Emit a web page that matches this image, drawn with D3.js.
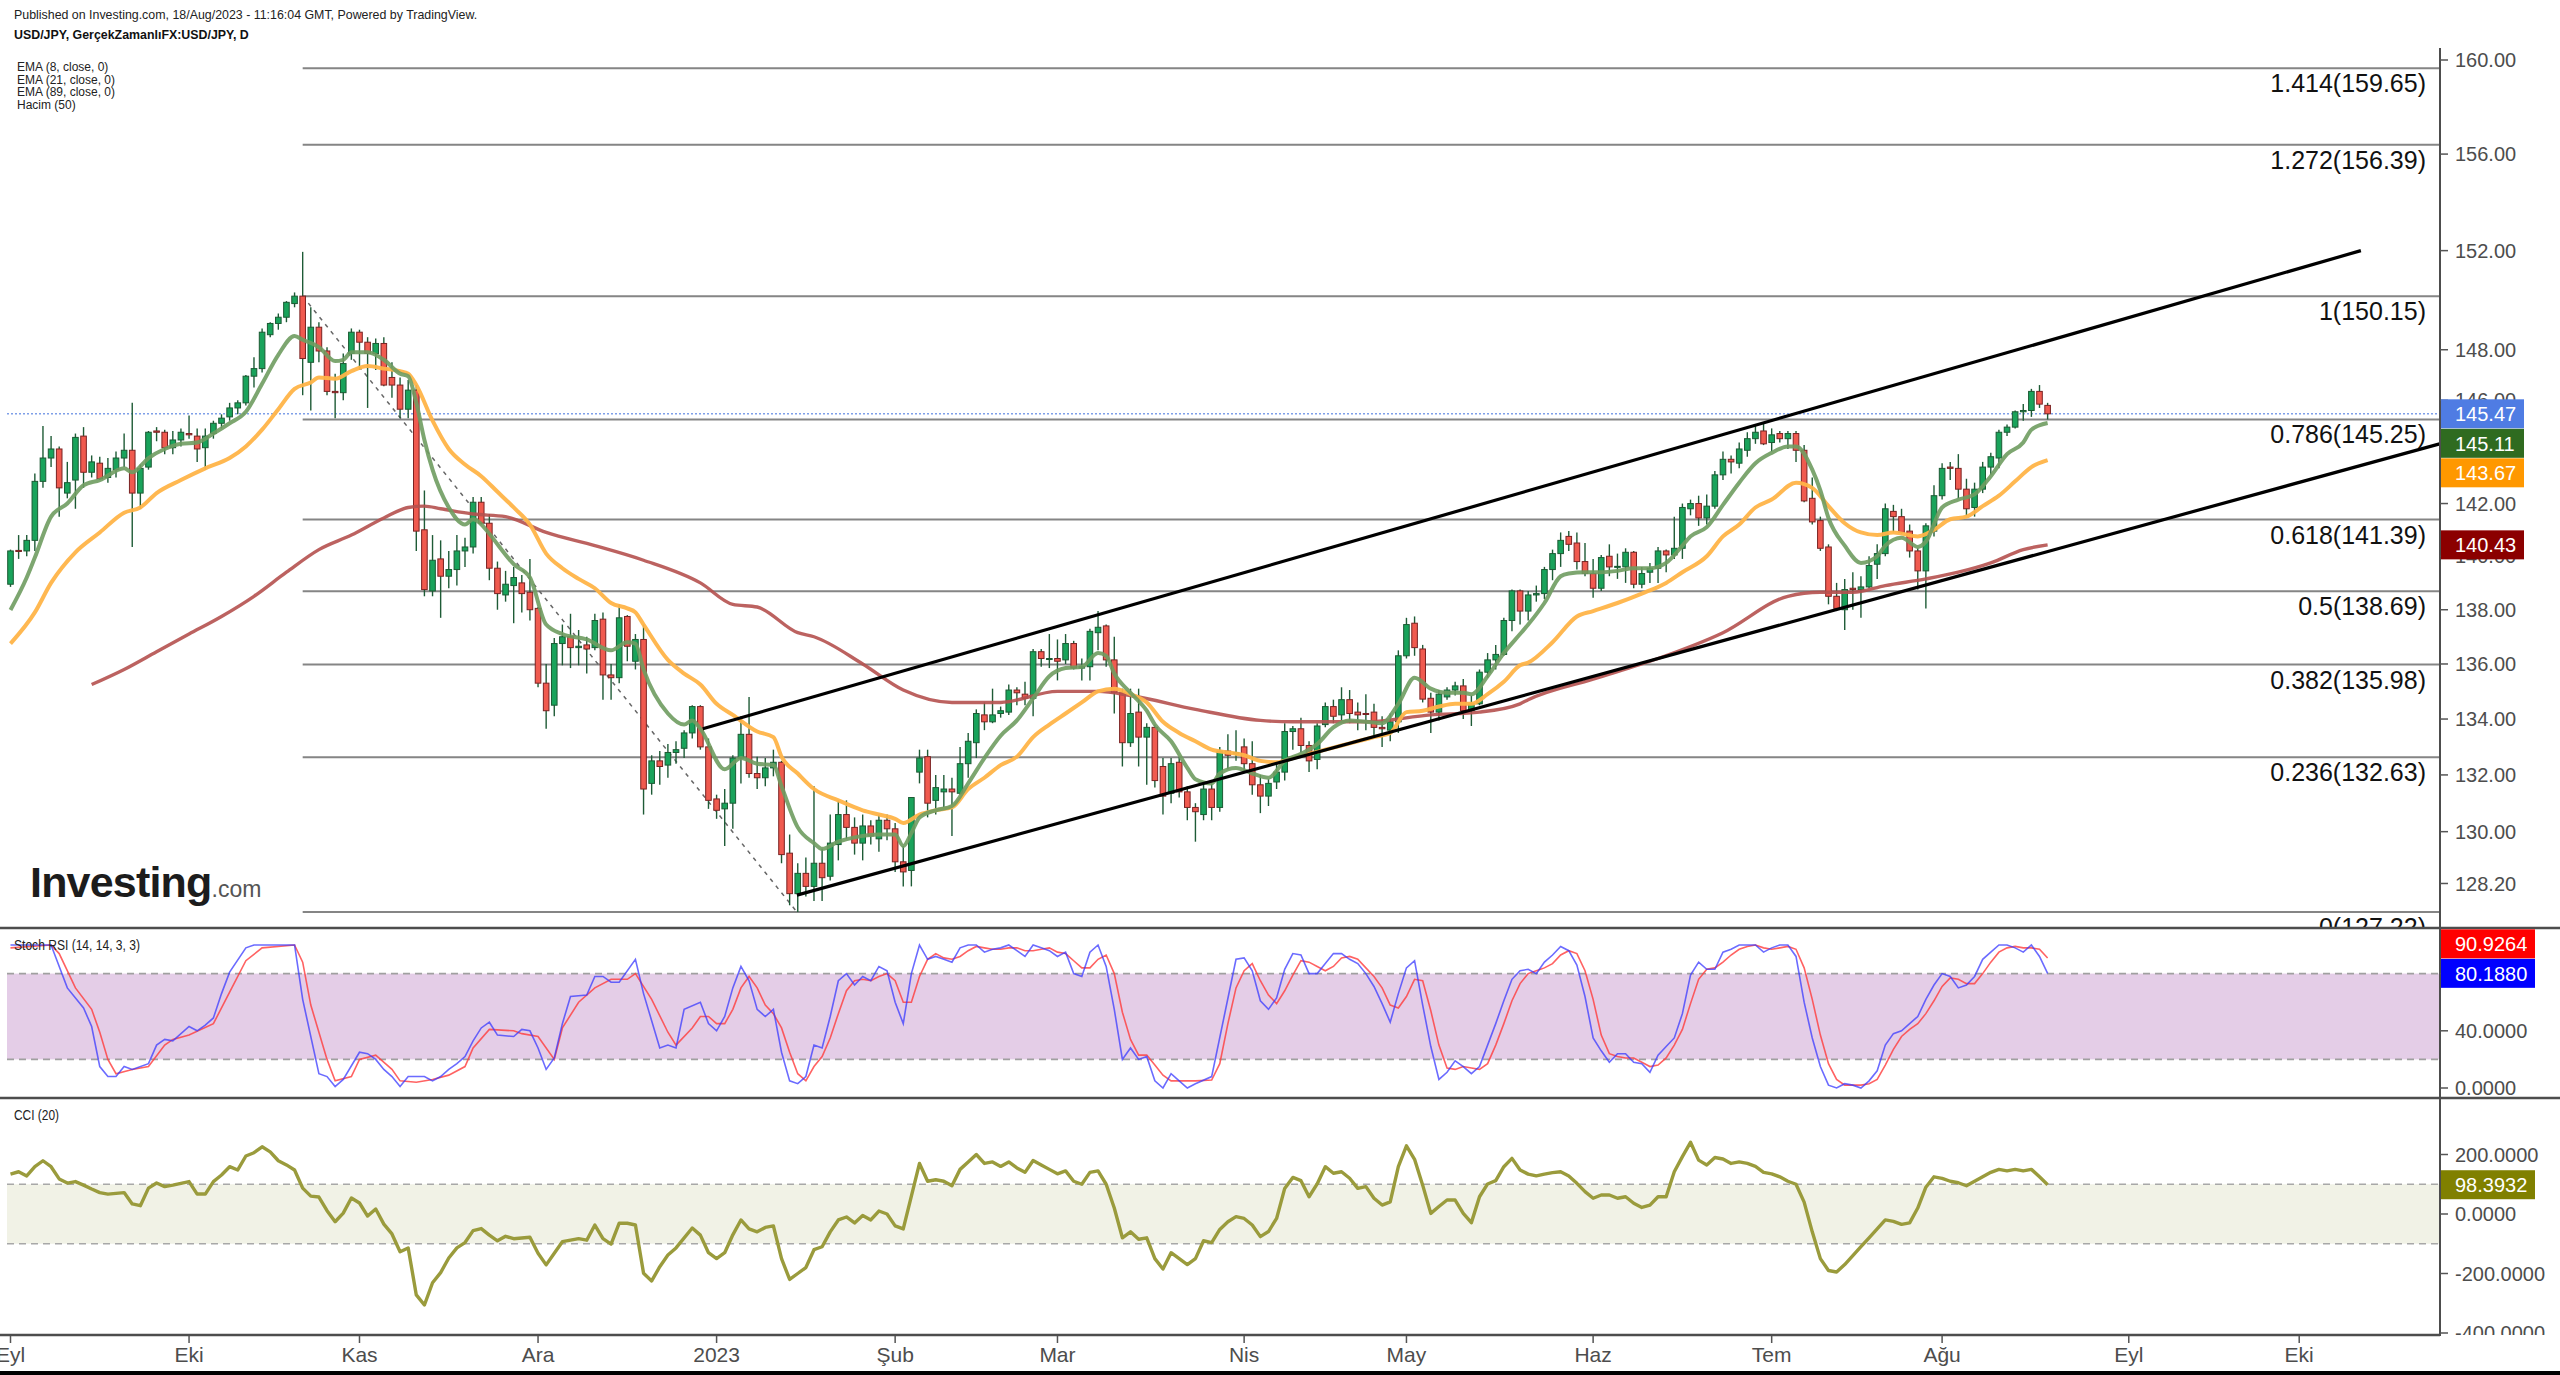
<!DOCTYPE html>
<html><head><meta charset="utf-8">
<script src="https://cdn.jsdelivr.net/npm/d3@7"></script>
<style>
html,body{margin:0;padding:0;background:#fff;}
svg{display:block;}
</style></head><body>
<svg id="c" width="2560" height="1375"></svg>
<script>
// ---------------- DATA ----------------
// daily bars, index 0 = 1 Sep 2022 (weekdays only)
const opens = [138.95,140.22,140.2,140.6,142.85,143.75,144.1,142.4,142.9,144.6,
143.2,143.55,143.0,143.3,143.75,144.05,142.4,143.4,144.8,144.75,
144.15,144.45,144.7,144.6,144.15,144.7,145.1,145.35,145.7,145.9,
146.95,147.25,148.6,149.05,149.3,149.85,150.15,147.5,148.9,147.95,
146.35,146.3,147.85,148.7,148.3,147.85,148.25,146.9,146.6,145.65,
146.4,141.0,138.7,139.9,139.25,139.5,140.2,140.35,142.05,141.25,
139.55,138.55,138.9,139.0,138.65,138.05,135.3,134.5,136.75,137.0,
136.6,136.7,136.6,137.65,135.6,135.5,137.75,136.1,136.9,131.7,
132.5,132.35,132.8,132.95,133.5,134.45,133.0,131.15,130.8,131.0,
132.6,133.45,132.05,131.9,132.25,132.45,129.25,127.85,128.55,128.1,
128.9,128.45,129.55,130.6,130.15,129.6,130.2,129.75,130.4,130.1,
128.95,128.65,132.1,132.65,131.1,131.4,131.5,131.35,132.4,133.15,
134.15,133.9,134.2,134.25,135.05,134.9,134.75,136.45,136.2,136.2,
136.15,136.75,135.85,135.9,137.15,137.4,136.15,134.95,133.15,134.25,
133.35,133.7,132.3,131.35,132.45,131.4,130.85,130.6,131.5,130.85,
132.85,132.75,133.0,132.4,131.65,131.25,131.75,132.1,133.55,133.65,
133.05,132.55,133.8,134.45,134.15,134.7,134.25,134.2,134.25,133.7,
133.6,133.9,136.3,137.5,136.55,134.75,134.25,134.8,135.05,135.2,
134.3,134.55,135.7,136.15,136.35,137.6,138.7,137.95,138.55,138.6,
139.5,140.1,140.75,140.5,139.8,139.35,138.8,140.0,139.6,139.6,
140.15,138.95,139.4,139.55,140.2,140.05,140.3,141.8,142.0,141.45,
141.9,143.1,143.7,143.55,144.05,144.5,144.8,144.35,144.7,144.5,
144.7,144.05,142.2,141.35,140.35,138.5,138.0,138.8,138.75,138.85,
139.7,140.1,141.7,141.5,140.95,140.2,139.45,140.95,142.3,143.4,
143.35,142.55,141.85,142.55,143.4,143.75,144.75,144.95,145.55,145.6,
146.35,145.8];
const highs = [140.25,140.8,140.8,143.15,144.99,144.6,144.2,143.6,144.7,144.95,
143.85,143.8,143.75,144.0,144.7,145.9,143.5,144.8,144.95,144.85,
144.8,144.9,145.4,144.9,144.9,145.2,145.45,145.9,146.0,147.0,
147.7,148.85,149.1,149.45,149.95,150.3,151.95,149.7,149.1,148.1,
147.05,147.85,148.85,148.8,148.5,148.45,148.5,147.5,146.9,146.8,
146.6,142.5,140.8,140.6,140.2,140.8,140.7,142.25,142.25,141.6,
139.8,139.45,139.6,139.3,139.9,138.1,136.0,136.95,137.45,137.85,
137.25,137.0,137.85,137.9,136.0,138.2,137.8,137.1,137.45,132.7,
132.85,133.1,133.2,133.6,134.5,134.5,133.3,131.3,131.5,132.7,
134.1,134.8,132.65,132.6,132.9,132.5,129.9,128.9,129.1,131.6,
129.4,130.6,131.1,131.1,130.5,130.6,130.4,130.6,130.6,130.3,
129.5,131.2,132.9,132.9,132.0,132.0,131.9,133.0,133.5,134.35,
134.6,135.1,134.45,135.25,135.15,135.35,136.55,136.55,137.1,136.9,
137.1,136.85,136.2,137.3,137.95,137.45,137.0,135.1,135.1,135.1,
133.85,133.8,132.6,132.6,132.65,131.6,131.0,131.7,131.7,133.0,
133.45,133.6,133.3,133.2,132.0,131.85,132.4,133.85,133.75,134.05,
133.2,133.85,134.6,134.7,135.15,135.05,134.6,134.9,134.55,134.1,
134.2,136.5,137.7,137.75,136.7,134.95,135.05,135.15,135.35,135.45,
134.85,135.8,136.4,136.7,137.7,138.75,138.75,138.7,138.9,139.6,
140.25,140.9,140.95,140.9,140.5,139.9,140.05,140.45,140.1,140.3,
140.2,139.6,139.75,140.35,140.25,141.5,142.0,142.15,142.3,142.35,
143.25,144.0,143.85,144.35,144.75,145.05,145.1,144.9,144.8,144.8,
144.8,144.25,143.0,141.5,140.45,139.0,139.15,139.4,139.25,140.0,
140.45,142.0,141.95,141.8,141.2,140.3,141.25,142.7,143.55,143.6,
143.9,142.95,142.8,143.6,143.95,144.85,145.05,145.6,145.85,146.45,
146.6,145.9];
const lows = [138.85,139.9,140.0,140.2,142.6,143.4,141.5,142.2,141.8,142.6,
143.0,142.9,142.8,143.0,143.4,140.35,141.8,143.3,144.4,143.9,
143.9,144.2,144.5,143.6,143.3,144.5,144.9,145.2,145.45,145.8,
146.5,147.1,148.5,148.8,149.1,149.7,146.2,145.6,147.5,146.2,
145.3,146.0,147.6,147.2,145.7,147.2,146.55,146.1,145.3,145.3,
140.2,138.5,138.5,137.7,138.8,138.9,139.6,140.1,141.2,139.1,
138.0,138.3,137.5,137.9,137.6,135.15,133.65,134.1,135.95,135.85,
135.95,135.65,136.5,134.7,134.7,135.3,136.1,135.8,130.6,131.3,
131.65,131.9,132.4,132.6,133.3,132.9,130.8,130.45,129.5,130.1,
131.7,131.9,131.5,131.6,131.95,128.9,127.45,127.22,127.75,127.6,
127.6,128.3,129.0,129.75,129.2,129.0,129.55,129.3,129.7,128.6,
128.1,128.1,131.7,130.5,130.6,130.8,129.85,131.3,131.9,132.6,
133.6,133.85,134.05,134.15,134.5,134.5,134.1,135.9,135.85,135.4,
136.0,135.8,135.4,135.4,136.5,135.9,134.2,132.3,133.0,132.3,
131.65,131.55,130.6,131.0,131.2,130.4,129.65,130.4,130.4,130.7,
132.2,132.5,132.1,131.3,130.65,130.9,131.5,131.8,132.9,132.8,
132.1,132.2,133.7,133.85,133.95,133.85,133.6,133.6,133.4,133.0,
133.2,133.5,136.2,136.3,134.6,133.5,133.95,134.7,134.85,134.0,
133.75,134.5,135.5,135.8,136.3,137.2,137.45,137.6,138.3,138.4,
139.1,139.6,140.2,139.5,139.25,138.45,138.7,139.25,139.15,139.0,
138.8,138.8,139.0,139.0,139.4,139.9,139.9,141.55,141.15,141.2,
141.8,142.9,143.15,143.35,143.8,144.3,144.25,144.0,144.35,144.1,
143.6,142.05,141.2,140.2,138.2,137.95,137.25,138.0,137.7,138.8,
139.15,140.0,140.9,140.85,139.95,138.75,138.05,140.75,142.15,142.9,
142.2,141.55,141.5,142.4,143.1,143.35,144.6,144.9,145.2,145.35,
145.7,145.25];
const closes = [140.2,140.18,140.6,142.85,143.75,144.1,142.6,142.8,144.55,143.2,
143.6,142.95,143.35,143.75,144.05,142.4,143.35,144.75,144.75,144.15,
144.45,144.75,144.65,144.1,144.6,145.1,145.3,145.7,145.9,146.95,
147.25,148.7,149.05,149.3,149.9,150.15,147.65,148.9,147.95,146.35,
146.3,147.45,148.7,148.3,147.85,148.25,146.6,146.6,145.65,146.4,
140.95,138.75,139.85,139.25,139.5,140.2,140.35,142.05,141.25,139.55,
138.6,138.95,139.2,138.6,138.0,135.3,134.3,136.75,137.0,136.6,
136.65,136.55,137.6,135.6,135.5,137.7,136.65,136.9,131.5,132.5,
132.3,132.8,132.9,133.5,134.45,133.0,131.1,130.75,131.0,132.6,
133.45,132.05,131.9,132.25,132.45,129.2,127.85,128.55,128.1,128.9,
128.4,129.6,130.6,130.15,129.6,130.2,129.85,130.4,130.1,128.95,
128.6,131.2,132.6,131.0,131.55,131.5,131.4,132.4,133.2,134.2,
133.9,134.15,134.3,135.05,134.95,134.75,136.45,136.2,136.2,136.1,
136.75,135.85,135.9,137.2,137.35,136.15,134.95,133.15,134.2,133.35,
133.7,131.8,131.25,132.4,131.4,130.85,130.7,131.5,130.85,132.85,
132.7,132.8,132.4,131.65,131.25,131.7,132.1,133.55,133.65,133.05,
132.5,133.75,134.45,134.1,134.7,134.2,134.15,134.18,133.7,133.65,
133.9,136.3,137.45,136.6,134.72,134.25,134.9,135.05,135.2,134.3,
134.55,135.7,136.15,136.35,137.6,138.7,137.95,138.55,138.6,139.5,
140.1,140.6,140.45,139.8,139.35,138.8,139.95,139.6,139.62,140.15,
138.95,139.35,139.55,140.2,140.05,140.3,141.85,142.0,141.45,141.9,
143.1,143.7,143.6,144.1,144.5,144.75,144.3,144.65,144.5,144.7,
144.05,142.1,141.3,140.3,138.5,138.05,138.75,138.75,138.85,139.65,
140.1,141.8,141.5,140.9,140.2,139.45,141.15,142.3,143.35,143.35,
142.55,141.8,142.55,143.4,143.8,144.75,144.95,145.55,145.6,146.35,
145.85,145.47];

// moving averages: [bar index, price]
const ema8 = [[0,137.99],[2,139.2],[3,139.95],[5,141.5],[7,142.0],[9,142.7],[11,142.9],[14,143.35],[15,143.2],[17,143.75],[19,144.1],[21,144.3],[23,144.35],[25,144.7],[27,145.1],[29,145.55],[31,146.65],[33,147.8],[35,148.55],[36,148.4],[38,148.1],[40,147.55],[41,147.6],[42,147.9],[44,147.9],[46,147.6],[48,147.05],[49,146.95],[50,145.9],[51,144.45],[52,143.3],[54,141.85],[56,141.2],[57,141.4],[59,140.85],[60,140.45],[62,139.7],[64,139.2],[66,137.45],[68,137.1],[71,136.9],[74,136.5],[76,136.8],[77,136.75],[78,135.8],[81,134.2],[83,133.8],[84,133.95],[85,133.65],[88,132.2],[90,132.6],[92,132.4],[94,132.35],[95,131.6],[97,130.15],[99,129.6],[100,129.4],[102,129.65],[104,129.8],[107,129.9],[109,129.9],[110,129.5],[111,129.95],[112,130.5],[114,130.75],[116,130.9],[118,131.7],[120,132.6],[122,133.4],[124,133.95],[126,134.75],[128,135.55],[130,135.85],[132,135.9],[134,136.4],[135,136.3],[136,135.65],[138,134.95],[140,134.3],[141,133.8],[143,133.2],[145,132.25],[146,131.85],[148,131.7],[149,132.05],[151,132.25],[153,132.05],[155,131.9],[157,132.5],[159,132.75],[161,133.1],[163,133.7],[165,133.95],[167,133.9],[169,133.85],[171,134.55],[173,135.5],[175,135.1],[177,134.95],[179,134.95],[180,134.9],[182,135.55],[184,136.4],[186,137.1],[187,137.45],[189,138.25],[191,139.25],[192,139.35],[194,139.4],[196,139.4],[198,139.45],[200,139.55],[202,139.55],[204,139.75],[206,140.4],[207,140.75],[209,141.1],[211,141.95],[213,142.8],[215,143.55],[217,143.95],[219,144.2],[220,144.2],[222,143.3],[223,142.5],[224,141.45],[226,140.4],[228,139.75],[230,140.0],[231,140.4],[233,140.7],[235,140.35],[236,140.55],[238,141.85],[240,142.15],[242,142.35],[244,143.05],[246,143.9],[248,144.35],[249,144.85],[251,145.11]];
const ema21 = [[0,136.75],[3,137.9],[5,139.0],[8,140.15],[11,140.9],[14,141.65],[16,141.85],[18,142.4],[21,142.9],[24,143.35],[27,143.75],[29,144.2],[31,144.85],[33,145.65],[35,146.45],[37,146.7],[38,146.9],[40,146.85],[42,147.15],[44,147.35],[46,147.25],[48,147.15],[49,147.05],[50,146.6],[52,145.2],[54,144.1],[56,143.5],[58,143.05],[60,142.45],[62,141.85],[64,141.2],[66,140.1],[68,139.55],[70,139.15],[72,138.8],[74,138.25],[76,138.05],[77,137.9],[78,137.45],[81,136.15],[83,135.65],[85,135.25],[87,134.55],[89,134.15],[92,133.55],[94,133.35],[95,132.65],[97,132.05],[99,131.5],[102,131.1],[105,130.75],[107,130.6],[109,130.45],[110,130.3],[112,130.6],[114,130.75],[116,130.85],[118,131.5],[120,131.9],[122,132.35],[124,132.65],[126,133.35],[128,133.8],[130,134.2],[132,134.6],[134,135.0],[136,135.1],[138,134.9],[140,134.6],[142,133.9],[144,133.5],[146,133.2],[148,132.9],[150,132.8],[152,132.7],[154,132.5],[156,132.45],[158,132.6],[160,132.75],[162,132.9],[164,133.05],[166,133.2],[168,133.35],[170,133.5],[172,134.25],[174,134.3],[176,134.45],[178,134.55],[180,134.55],[182,134.9],[184,135.35],[186,135.95],[187,136.05],[190,136.8],[193,137.75],[195,137.95],[198,138.25],[201,138.6],[204,139.0],[206,139.4],[209,140.0],[211,140.75],[213,141.2],[215,141.85],[217,142.15],[220,142.8],[222,142.6],[224,141.9],[226,141.25],[228,140.9],[230,140.8],[232,140.9],[235,140.75],[237,141.0],[239,141.4],[241,141.5],[243,141.9],[245,142.3],[247,142.85],[249,143.4],[251,143.67]];
const ema89 = [[10,135.25],[14,135.8],[18,136.45],[22,137.1],[26,137.75],[30,138.5],[34,139.4],[38,140.25],[42,140.8],[46,141.45],[49,141.85],[51,141.9],[53,141.8],[57,141.6],[61,141.5],[66,140.9],[72,140.4],[78,139.85],[85,139.0],[89,138.2],[92,138.1],[97,137.15],[99,137.0],[105,136.0],[110,135.05],[116,134.6],[122,134.6],[129,135.0],[134,135.0],[138,134.85],[146,134.35],[154,133.95],[158,133.9],[167,133.9],[175,134.15],[181,134.25],[186,134.55],[187,134.7],[195,135.45],[203,136.2],[211,137.15],[219,138.5],[223,138.65],[227,138.65],[231,138.9],[236,139.15],[240,139.4],[244,139.75],[248,140.25],[251,140.43]];

// Stoch RSI (14,14,3,3): [bar index, value]
const stochK = [[0,100],[5,100],[7,70],[9,56],[10,43],[11,15],[12,8],[13,8],[14,15],[15,13],[17,17],[18,30],[19,34],[20,33],[22,43],[23,40],[24,44],[25,49],[26,66],[27,81],[29,98],[30,100],[35,100],[36,62],[38,10],[39,8],[40,1],[41,6],[43,25],[44,24],[45,20],[46,13],[47,8],[48,1],[49,8],[51,8],[52,5],[53,8],[54,13],[55,17],[56,22],[57,33],[58,42],[59,46],[60,37],[62,36],[63,41],[64,40],[65,28],[66,13],[67,21],[68,45],[69,64],[71,65],[72,78],[73,78],[74,74],[75,74],[77,90],[78,66],[80,28],[81,30],[82,28],[83,55],[85,60],
[86,45],[87,40],[88,50],[89,70],[90,85],[91,75],[92,55],[93,50],[94,55],[95,25],[96,5],[97,3],[98,8],[99,30],[100,28],[101,50],[102,75],[103,80],[104,72],[105,78],[106,75],[107,85],[108,82],[109,60],[110,45],[111,80],[112,100],[113,90],[114,92],[115,90],[116,88],[117,98],[118,100],[119,100],[120,95],[121,97],[122,98],[123,100],[124,96],[125,92],[126,100],[127,98],[128,96],[129,92],[130,95],[131,80],[132,78],[133,95],[134,100],[135,85],[136,55],[137,20],[138,28],[139,20],[140,22],[141,5],[142,0],[143,10],[144,5],[145,0],[146,3],
[148,8],[151,90],[152,91],[153,82],[154,61],[155,55],[156,63],[157,83],[158,94],[159,93],[160,80],[161,80],[162,87],[163,94],[164,94],[165,90],[166,87],[167,80],[168,71],[169,59],[170,46],[171,66],[172,84],[173,89],[174,58],[175,29],[176,6],[177,11],[178,19],[179,15],[180,10],[181,15],[182,30],[183,45],[184,61],[185,76],[186,82],[187,83],[188,80],[189,88],[190,93],[191,99],[192,96],[193,86],[194,64],[195,35],[196,26],[197,18],[198,24],[199,24],[200,18],[201,17],[202,11],[203,23],[204,29],[205,35],[206,52],[207,79],[208,88],[209,83],[210,83],
[211,95],[212,97],[213,100],[214,100],[215,100],[216,95],[217,98],[218,100],[219,100],[220,92],[221,60],[222,35],[223,15],[224,2],[225,0],[226,3],[227,2],[228,0],[229,5],[230,12],[231,30],[232,38],[233,40],[234,45],[235,50],[236,62],[237,72],[238,80],[239,78],[240,70],[241,72],[242,78],[243,90],[244,95],[245,100],[246,100],[247,98],[248,95],[249,100],[250,92],[251,80.188]];
const stochD = [[0,98],[5,100],[6,94],[8,70],[10,55],[11,39],[12,20],[13,10],[15,13],[17,15],[19,30],[20,34],[22,37],[25,45],[27,67],[29,89],[31,98],[35,100],[36,88],[37,58],[39,20],[40,5],[42,8],[43,20],[45,23],[47,13],[48,5],[50,4],[52,6],[54,9],[56,15],[57,28],[59,41],[62,40],[63,38],[65,36],[67,20],[68,42],[70,60],[72,70],[74,76],[76,76],[77,80],[79,62],[81,39],[82,30],[84,42],[85,50],
[86,50],[87,45],[88,45],[89,55],[90,70],[91,78],[92,70],[93,58],[94,52],[95,42],[96,25],[97,10],[98,5],[99,15],[100,22],[101,35],[102,52],[103,68],[104,75],[105,76],[106,75],[107,78],[108,80],[109,75],[110,60],[111,60],[112,78],[113,90],[114,94],[115,91],[116,90],[117,92],[118,96],[119,99],[120,98],[121,97],[122,97],[123,98],[124,98],[125,96],[126,96],[127,97],[128,98],[129,95],[130,94],[131,89],[132,84],[133,84],[134,90],[135,93],[136,80],[137,53],[138,34],[139,23],[140,23],[141,16],[142,9],[143,5],[144,5],[145,5],[146,5],
[148,5.6],[149,17],[150,45],[151,70],[152,82],[153,87],[154,75],[155,65],[156,59],[157,68],[158,79],[159,89],[160,88],[161,85],[162,82],[163,85],[164,91],[165,92],[166,90],[167,84],[168,78],[169,70],[170,58],[171,56],[172,64],[173,76],[174,75],[175,54],[176,30],[177,14],[178,13],[179,15],[180,14],[181,13],[182,17],[183,30],[184,45],[185,61],[186,73],[187,80],[188,82],[189,84],[190,87],[191,93],[192,96],[193,94],[194,82],[195,62],[196,37],[197,24],[198,22],[199,21],[200,21],[201,18],[202,15],[203,16],[204,21],[205,30],[206,41],[207,59],[208,76],[209,83],[210,84],
[211,88],[212,93],[213,97],[214,99],[215,100],[216,98],[217,97],[218,98],[219,99],[220,97],[221,84],[222,62],[223,37],[224,17],[225,6],[226,2],[227,2],[228,2],[229,3],[230,6],[231,16],[232,27],[233,36],[234,41],[235,45],[236,52],[237,61],[238,71],[239,77],[240,76],[241,73],[242,73],[243,80],[244,88],[245,95],[246,98],[247,99],[248,98],[249,98],[250,97],[251,90.9264]];
// CCI (20): [bar index, value]
const cci = [[0,134],[1,142],[2,128],[3,159],[4,179],[5,159],[6,118],[7,104],[8,109],[9,97],[10,84],[11,72],[12,67],[14,72],[15,34],[16,28],[17,87],[18,104],[19,92],[20,97],[22,109],[23,67],[24,67],[25,109],[26,131],[27,159],[28,148],[29,195],[30,206],[31,226],[32,209],[33,179],[34,165],[35,148],[36,87],[37,60],[38,57],[39,11],[40,-26],[41,3],[42,54],[43,37],[44,-7],[45,17],[46,-34],[47,-67],[48,-127],[49,-114],[50,-272],[51,-306],[52,-231],[53,-197],[54,-148],[55,-114],[56,-96],[57,-56],[58,-49],[59,-71],[60,-90],[61,-75],[62,-83],[64,-78],[65,-132],[66,-171],[67,-132],[68,-93],[70,-83],[71,-88],[72,-37],[73,-83],[74,-101],[75,-31],[76,-31],[77,-37],[78,-199],[79,-225],[80,-177],[81,-138],[82,-114],[84,-47],[85,-71],
[86,-130],[87,-150],[88,-130],[89,-70],[90,-20],[91,-50],[92,-60],[93,-45],[94,-40],[95,-150],[96,-220],[97,-200],[98,-180],[99,-120],[100,-110],[101,-60],[102,-20],[103,-10],[104,-30],[105,-5],[106,-20],[107,10],[108,0],[109,-40],[110,-50],[111,60],[112,170],[113,110],[114,115],[115,110],[116,95],[117,150],[118,175],[119,200],[120,170],[121,175],[122,160],[123,175],[124,155],[125,140],[126,180],[127,165],[128,150],[129,135],[130,145],[131,110],[132,100],[133,140],[134,145],[135,100],[136,20],[137,-80],[138,-60],[139,-85],[140,-80],[141,-150],[142,-185],[143,-130],[144,-150],[145,-170],[146,-150],
[147,-90],[148,-96],[149,-52],[150,-26],[151,-9],[152,-15],[153,-37],[154,-76],[155,-59],[156,-15],[157,86],[158,123],[159,112],[160,58],[161,101],[162,159],[163,137],[164,142],[165,120],[166,86],[167,92],[168,53],[169,30],[170,41],[171,159],[172,229],[173,184],[174,97],[175,2],[176,25],[177,47],[178,47],[179,2],[180,-29],[181,58],[182,101],[183,112],[184,159],[185,187],[186,148],[187,134],[188,128],[189,134],[190,139],[191,142],[192,128],[193,103],[194,75],[195,53],[196,64],[197,64],[198,53],[199,58],[200,36],[201,22],[202,30],[203,58],[204,58],[205,142],[206,193],[207,241],[208,181],[209,165],[210,190],
[211,185],[212,170],[213,175],[214,170],[215,160],[216,140],[217,135],[218,125],[219,110],[220,100],[221,40],[222,-60],[223,-150],[224,-190],[225,-195],[226,-170],[227,-140],[228,-110],[229,-80],[230,-50],[231,-20],[232,-25],[233,-35],[234,-30],[235,20],[236,90],[237,125],[238,120],[239,110],[240,105],[241,95],[242,110],[243,125],[244,140],[245,150],[246,145],[247,150],[248,145],[249,150],[250,125],[251,98.3932]];

// Fibonacci retracement
const fibRatios = ["1.414","1.272","1","0.786","0.618","0.5","0.382","0.236","0"];
const fibPrices = [159.65,156.39,150.15,145.25,141.39,138.69,135.98,132.63,127.22];
const fibStartBar = 36;
// drawn lines [bar index, price]
const channelUpper = [[85.3,133.65],[289.6,152.0]];
const channelLower = [[96.9,127.8],[299.3,144.3]];
const fibAnchor = [[36,150.15],[96.9,127.22]];
const lastPrice = 145.47;

// axes
const priceTicks = [160,156,152,148,146,142,140,138,136,134,132,130,128.2];
const stochTicks = [0,40,80];
const cciTicks = [-400,-200,0,200];
const monthLabels = ["Eyl","Eki","Kas","Ara","2023","Şub","Mar","Nis","May","Haz","Tem","Ağu","Eyl","Eki"];
const monthBars   = [0,22,43,65,87,109,129,152,172,195,217,238,261,282];

const priceLabels = [
  {v:145.47, txt:"145.47", c:"#4f7ce3"},
  {v:145.11, txt:"145.11", c:"#2f6b20"},
  {v:143.67, txt:"143.67", c:"#ff9800"},
  {v:140.43, txt:"140.43", c:"#8b0000"}];
const stochLabels = [{v:80.188, txt:"80.1880", c:"#0000ff"},{v:90.9264, txt:"90.9264", c:"#ff0000"}];
const cciLabels = [{v:98.3932, txt:"98.3932", c:"#808000"}];

// ---------------- LAYOUT ----------------
const svg = d3.select('#c');
const AX = 2440;
const MAIN = [30, 928], STO = [928, 1098], CC = [1098, 1335];
const FONT = "'Liberation Sans', Arial, sans-serif";
const NARROW = "'Liberation Sans Narrow', 'Arial Narrow', 'Liberation Sans', sans-serif";

const x = d3.scaleLinear().domain([0, 282]).range([10.5, 10.5 + 282 * 8.116]);
const y = d3.scaleLog().domain([127.22, 160]).range([912, 60]);
const ys = d3.scaleLinear().domain([0, 100]).range([1088, 945]);
const yc = d3.scaleLinear().domain([0, 200]).range([1214, 1154.5]);

const defs = svg.append('defs');
function clip(id, x0, y0, x1, y1) {
  defs.append('clipPath').attr('id', id).append('rect')
    .attr('x', x0).attr('y', y0).attr('width', x1 - x0).attr('height', y1 - y0);
}
clip('cMain', 0, MAIN[0], AX, MAIN[1]);
clip('cSto', 0, STO[0], AX, STO[1]);
clip('cCci', 0, CC[0], AX, CC[1]);
clip('cAxMain', AX, 40, 2560, MAIN[1]);
clip('cAxSto', AX, STO[0] + 1, 2560, STO[1]);
clip('cAxCci', AX, CC[0] + 1, 2560, CC[1]);

svg.append('rect').attr('width', 2560).attr('height', 1375).attr('fill', '#fff');

// ---------- main pane ----------
const main = svg.append('g').attr('clip-path', 'url(#cMain)');

fibPrices.forEach((p, k) => {
  main.append('line').attr('x1', x(fibStartBar)).attr('x2', AX)
    .attr('y1', y(p)).attr('y2', y(p)).attr('stroke', '#858585').attr('stroke-width', 2);
  main.append('text').attr('x', 2426).attr('y', y(p) + 24).attr('text-anchor', 'end')
    .attr('font-family', FONT).attr('font-size', 25).attr('fill', '#111')
    .text(fibRatios[k] + '(' + p.toFixed(2) + ')');
});
main.append('line').attr('x1', 7).attr('x2', AX).attr('y1', y(lastPrice)).attr('y2', y(lastPrice))
  .attr('stroke', '#7f9fe8').attr('stroke-width', 1.5).attr('stroke-dasharray', '2,2');
main.append('line').attr('x1', x(fibAnchor[0][0])).attr('y1', y(fibAnchor[0][1]))
  .attr('x2', x(fibAnchor[1][0])).attr('y2', y(fibAnchor[1][1]))
  .attr('stroke', '#666').attr('stroke-width', 1.5).attr('stroke-dasharray', '4,5');

const bars = d3.range(opens.length).map(i => ({i, o: opens[i], h: highs[i], l: lows[i], c: closes[i]}));
const cg = main.append('g');
cg.selectAll('line.w').data(bars).join('line').attr('class', 'w')
  .attr('x1', d => x(d.i)).attr('x2', d => x(d.i))
  .attr('y1', d => y(d.h)).attr('y2', d => y(d.l))
  .attr('stroke', '#1e5b36').attr('stroke-width', 1.4);
const bw = 5.6;
cg.selectAll('rect.b').data(bars).join('rect').attr('class', 'b')
  .attr('x', d => x(d.i) - bw / 2)
  .attr('y', d => y(Math.max(d.o, d.c)))
  .attr('width', bw)
  .attr('height', d => Math.max(1, y(Math.min(d.o, d.c)) - y(Math.max(d.o, d.c))))
  .attr('fill', d => d.c >= d.o ? '#19a35b' : '#f05a4f')
  .attr('stroke', d => d.c >= d.o ? '#1b5a33' : '#7a2222').attr('stroke-width', 1);

const emaLine = d3.line().x(d => x(d[0])).y(d => y(d[1])).curve(d3.curveMonotoneX);
main.append('path').attr('d', emaLine(ema89)).attr('fill', 'none').attr('stroke', '#b5514f').attr('stroke-width', 3.4).attr('stroke-opacity', 0.9);
main.append('path').attr('d', emaLine(ema21)).attr('fill', 'none').attr('stroke', '#ffb448').attr('stroke-width', 4).attr('stroke-opacity', 0.95);
main.append('path').attr('d', emaLine(ema8)).attr('fill', 'none').attr('stroke', '#6f9c60').attr('stroke-width', 4).attr('stroke-opacity', 0.9);

[channelUpper, channelLower].forEach(seg => {
  main.append('line').attr('x1', x(seg[0][0])).attr('y1', y(seg[0][1]))
    .attr('x2', x(seg[1][0])).attr('y2', y(seg[1][1]))
    .attr('stroke', '#000').attr('stroke-width', 3.2);
});

// logo
const logo = svg.append('text').attr('x', 30).attr('y', 897).attr('font-family', FONT);
logo.append('tspan').attr('font-size', 43).attr('font-weight', 'bold').attr('fill', '#1c1c1c').attr('letter-spacing', -0.8).text('Investing');
logo.append('tspan').attr('font-size', 23).attr('fill', '#555').text('.com');

// ---------- Stoch pane ----------
const sto = svg.append('g').attr('clip-path', 'url(#cSto)');
sto.append('rect').attr('x', 7).attr('width', AX - 7).attr('y', ys(80)).attr('height', ys(20) - ys(80)).attr('fill', '#e4cde7');
[80, 20].forEach(v => sto.append('line').attr('x1', 7).attr('x2', AX).attr('y1', ys(v)).attr('y2', ys(v))
  .attr('stroke', '#a0a0a0').attr('stroke-width', 1.6).attr('stroke-dasharray', '7,5'));
const sLine = d3.line().x(d => x(d[0])).y(d => ys(d[1]));
sto.append('path').attr('d', sLine(stochD)).attr('fill', 'none').attr('stroke', '#ff3b3b').attr('stroke-width', 1.6).attr('stroke-opacity', 0.8);
sto.append('path').attr('d', sLine(stochK)).attr('fill', 'none').attr('stroke', '#3a3aff').attr('stroke-width', 1.6).attr('stroke-opacity', 0.75);
svg.append('text').attr('x', 14).attr('y', 950).attr('font-family', NARROW).attr('font-size', 14).attr('fill', '#222')
  .attr('textLength', 126).attr('lengthAdjust', 'spacingAndGlyphs').text('Stoch RSI (14, 14, 3, 3)');

// ---------- CCI pane ----------
const cc = svg.append('g').attr('clip-path', 'url(#cCci)');
cc.append('rect').attr('x', 7).attr('width', AX - 7).attr('y', yc(100)).attr('height', yc(-100) - yc(100)).attr('fill', '#f1f2e6');
[100, -100].forEach(v => cc.append('line').attr('x1', 7).attr('x2', AX).attr('y1', yc(v)).attr('y2', yc(v))
  .attr('stroke', '#a8a8a8').attr('stroke-width', 1.6).attr('stroke-dasharray', '7,5'));
const cLine = d3.line().x(d => x(d[0])).y(d => yc(d[1]));
cc.append('path').attr('d', cLine(cci)).attr('fill', 'none').attr('stroke', '#9a9b3c').attr('stroke-width', 3.4).attr('stroke-linejoin', 'round');
svg.append('text').attr('x', 14).attr('y', 1120).attr('font-family', NARROW).attr('font-size', 14).attr('fill', '#222')
  .attr('textLength', 45).attr('lengthAdjust', 'spacingAndGlyphs').text('CCI (20)');

// ---------- separators & axes ----------
svg.append('line').attr('x1', 0).attr('x2', 2560).attr('y1', MAIN[1]).attr('y2', MAIN[1]).attr('stroke', '#4d4d4d').attr('stroke-width', 2.5);
svg.append('line').attr('x1', 0).attr('x2', 2560).attr('y1', STO[1]).attr('y2', STO[1]).attr('stroke', '#4d4d4d').attr('stroke-width', 2.5);
svg.append('line').attr('x1', 0).attr('x2', AX).attr('y1', CC[1]).attr('y2', CC[1]).attr('stroke', '#4d4d4d').attr('stroke-width', 2.5);
svg.append('line').attr('x1', AX).attr('x2', AX).attr('y1', 48).attr('y2', CC[1] + 1).attr('stroke', '#4d4d4d').attr('stroke-width', 2);

function axisGroup(clipId, ticks, scale, fmt) {
  const g = svg.append('g').attr('clip-path', 'url(#' + clipId + ')');
  ticks.forEach(t => {
    g.append('line').attr('x1', AX).attr('x2', AX + 8).attr('y1', scale(t)).attr('y2', scale(t)).attr('stroke', '#555').attr('stroke-width', 1.5);
    g.append('text').attr('x', 2455).attr('y', scale(t)).attr('dy', '0.36em')
      .attr('font-family', FONT).attr('font-size', 20).attr('fill', '#4d4d4d').text(fmt(t));
  });
  return g;
}
axisGroup('cAxMain', priceTicks, y, t => t.toFixed(2));
axisGroup('cAxSto', stochTicks, ys, t => t.toFixed(4));
axisGroup('cAxCci', cciTicks, yc, t => t.toFixed(4));

function boxes(list, scale, w, dir) {
  let prev = null;
  list.forEach(d => {
    let cy = scale(d.v);
    if (prev !== null) {
      if (dir > 0 && cy < prev + 29.5) cy = prev + 29.5;
      if (dir < 0 && cy > prev - 29.5) cy = prev - 29.5;
    }
    prev = cy;
    svg.append('rect').attr('x', AX + 1).attr('y', cy - 14.5).attr('width', w).attr('height', 29).attr('fill', d.c);
    svg.append('text').attr('x', 2455).attr('y', cy).attr('dy', '0.36em')
      .attr('font-family', FONT).attr('font-size', 20).attr('fill', '#fff').text(d.txt);
  });
}
boxes(priceLabels, y, 83, 1);
boxes(stochLabels, ys, 94, -1);
boxes(cciLabels, yc, 94, 1);

// time axis
monthBars.forEach((b, k) => {
  svg.append('line').attr('x1', x(b)).attr('x2', x(b)).attr('y1', CC[1] + 1).attr('y2', CC[1] + 8).attr('stroke', '#555').attr('stroke-width', 1.5);
  svg.append('text').attr('x', x(b)).attr('y', 1362).attr('text-anchor', 'middle')
    .attr('font-family', NARROW).attr('font-size', 21).attr('fill', '#4d4d4d').text(monthLabels[k]);
});
svg.append('rect').attr('x', 0).attr('y', 1371).attr('width', 2560).attr('height', 4).attr('fill', '#000');

// header
svg.append('text').attr('x', 14).attr('y', 19).attr('font-family', FONT).attr('font-size', 12.4).attr('fill', '#222')
  .text('Published on Investing.com, 18/Aug/2023 - 11:16:04 GMT, Powered by TradingView.');
svg.append('text').attr('x', 14).attr('y', 39).attr('font-family', FONT).attr('font-size', 12.4).attr('font-weight', 'bold').attr('fill', '#111')
  .text('USD/JPY, GerçekZamanlıFX:USD/JPY, D');
["EMA (8, close, 0)", "EMA (21, close, 0)", "EMA (89, close, 0)", "Hacim (50)"].forEach((t, k) => {
  svg.append('text').attr('x', 17).attr('y', 71 + k * 12.6).attr('font-family', FONT).attr('font-size', 12).attr('fill', '#222').text(t);
});
</script></body></html>
